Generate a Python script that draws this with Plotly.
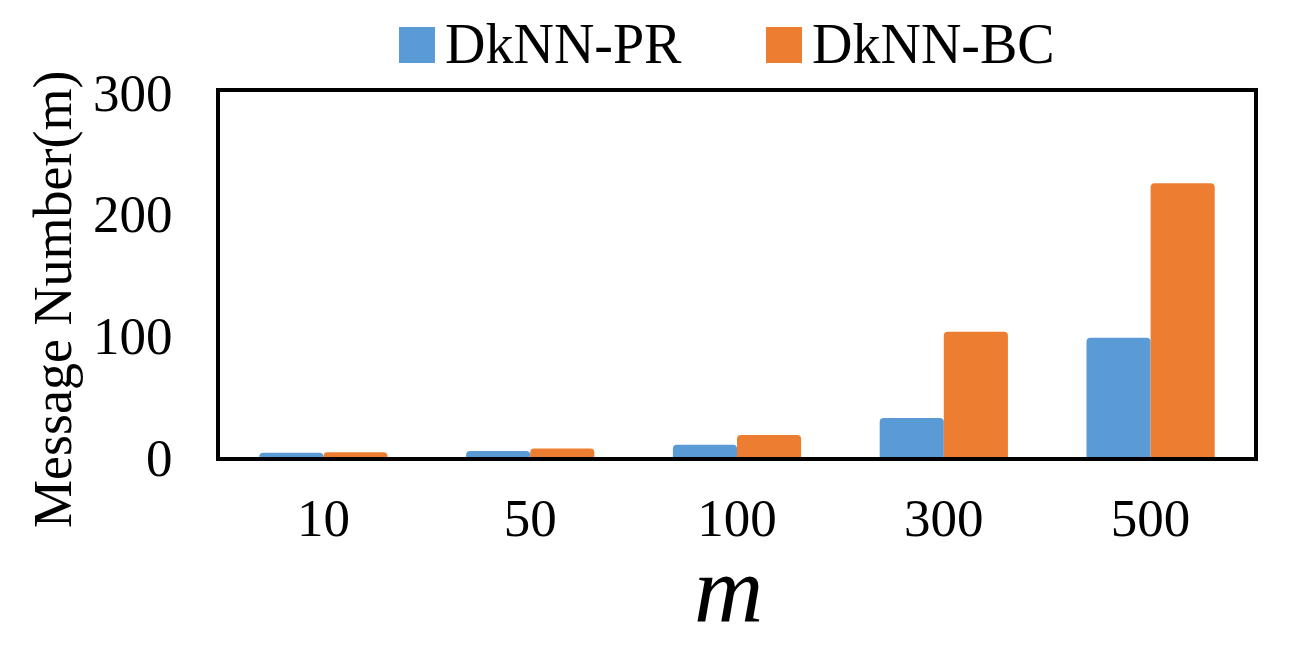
import plotly.graph_objects as go

categories = ["10", "50", "100", "300", "500"]
series_names = ["DkNN-PR", "DkNN-BC"]
pr_values = [3.5, 5, 10, 32, 98]
bc_values = [4, 7, 18, 103, 225]
colors = ["#5B9BD5", "#ED7D31"]
y_ticks = [0, 100, 200, 300]

FONT = "Liberation Serif, Times New Roman, serif"

fig = go.Figure()
for name, vals, col in zip(series_names, [pr_values, bc_values], colors):
    fig.add_trace(go.Bar(x=categories, y=vals, name=name,
                         marker=dict(color=col, line=dict(width=0), cornerradius=4),
                         showlegend=False))

W, H = 1299, 649
OFF = 8  # page body margin
# plot area in screen pixels
SL, SR, ST, SB = 220, 1254, 92, 457
pw, ph = SR - SL, SB - ST

def px_x(x):
    return (x - SL) / pw

def px_y(y):
    return (SB - y) / ph

# manual legend (squares + names), screen coordinates
legend_items = [(399, 435, 443), (766, 802, 810)]
shapes = []
annotations = []
for (x0, x1, tx), name, col in zip(legend_items, series_names, colors):
    shapes.append(dict(type="rect", xref="paper", yref="paper",
                       x0=px_x(x0), x1=px_x(x1), y0=px_y(63), y1=px_y(27),
                       fillcolor=col, line=dict(width=0), layer="above"))
    annotations.append(dict(text=name, xref="paper", yref="paper",
                            x=px_x(tx), y=px_y(44), xanchor="left", yanchor="middle",
                            showarrow=False, font=dict(family=FONT, size=56, color="black")))

annotations.append(dict(text="Message Number(m)", xref="paper", yref="paper",
                        x=px_x(53), y=px_y(300), xanchor="center", yanchor="middle",
                        textangle=-90, showarrow=False,
                        font=dict(family=FONT, size=54, color="black")))
annotations.append(dict(text="<i>m</i>", xref="paper", yref="paper",
                        x=px_x(728), y=px_y(589), xanchor="center", yanchor="middle",
                        height=88, valign="middle",
                        showarrow=False,
                        font=dict(family=FONT, size=96, color="black")))

fig.update_layout(
    width=W, height=H,
    margin=dict(l=SL - OFF, r=W - SR + OFF, t=ST - OFF, b=H - SB + OFF, pad=0),
    paper_bgcolor="white", plot_bgcolor="white",
    barmode="group", bargap=0.38, bargroupgap=0,
    font=dict(family=FONT, size=53, color="black"),
    shapes=shapes, annotations=annotations,
    showlegend=False,
)
fig.update_xaxes(showline=True, mirror=True, linecolor="black", linewidth=4,
                 ticks="", showgrid=False, ticklabelstandoff=11,
                 tickfont=dict(family=FONT, size=53, color="black"))
fig.update_yaxes(range=[0, 300], tickvals=y_ticks, showline=True, mirror=True,
                 linecolor="black", linewidth=4, ticks="", showgrid=False,
                 zeroline=False, ticklabelstandoff=33,
                 tickfont=dict(family=FONT, size=53, color="black"))

fig.write_html("out.html")
